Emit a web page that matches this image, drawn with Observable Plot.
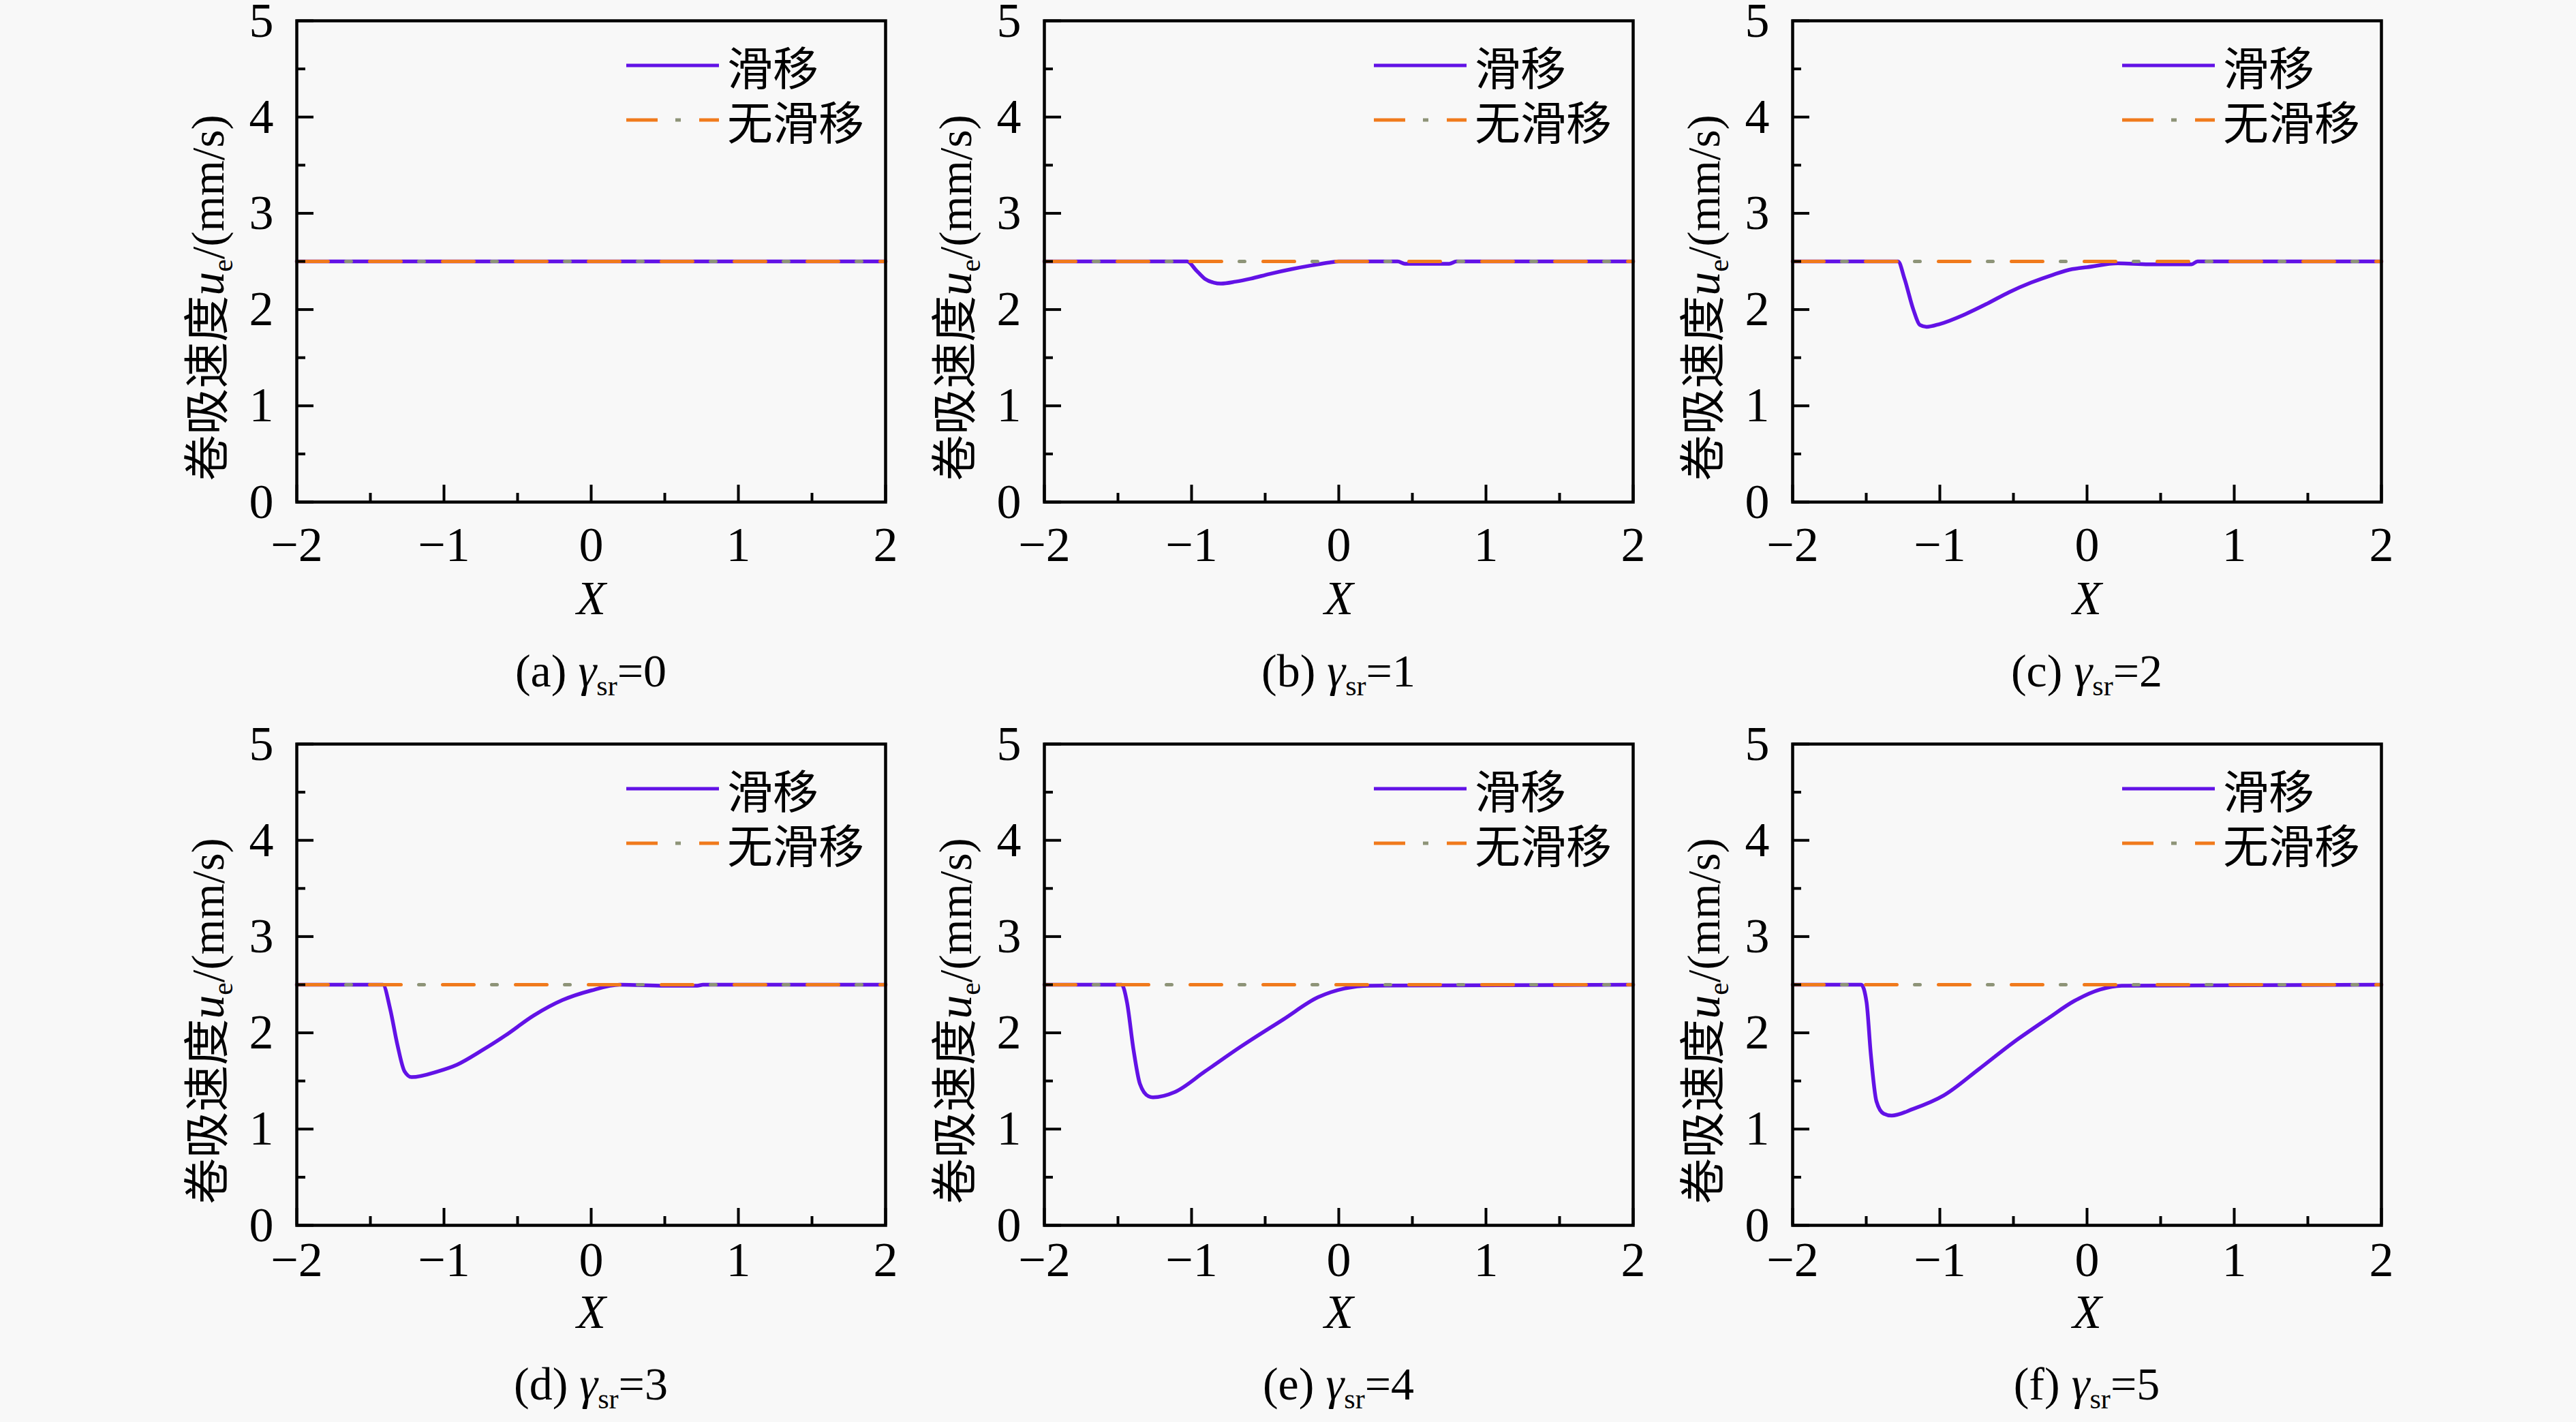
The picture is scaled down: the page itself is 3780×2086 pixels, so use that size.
<!DOCTYPE html>
<html>
<head>
<meta charset="utf-8">
<script src="https://cdn.jsdelivr.net/npm/d3@7"></script>
<script src="https://cdn.jsdelivr.net/npm/@observablehq/plot@0.6"></script>
<style>
  html, body { margin: 0; padding: 0; background: #f8f8f8; }
  #root { position: relative; width: 3780px; height: 2086px; background: #f8f8f8; overflow: hidden;
          font-family: "Liberation Serif", "Times New Roman", serif; color: #000; }
  .panel { position: absolute; }
  .panel svg { display: block; overflow: visible; }
  .panel svg text { font-family: "Liberation Serif", "Times New Roman", serif !important; }
  .ylabel { position: absolute; white-space: nowrap; font-size: 67px; line-height: 1;
            transform: translate(-50%, -50%) rotate(-90deg); }
  .cjk { font-family: "Noto Sans CJK SC", sans-serif; font-weight: 400; }
  .sub { font-size: 0.62em; position: relative; top: 0.32em; }
  .caption { position: absolute; white-space: nowrap; font-size: 68px; line-height: 1;
             transform: translate(-50%, -50%); }
  .legtext { position: absolute; white-space: nowrap; line-height: 80px; font-size: 67px; }
  .swatch { position: absolute; }
</style>
</head>
<body>
<div id="root"></div>
<script>
// ---------- data ----------
const xTicks = [-2, -1, 0, 1, 2];
const xMinorTicks = [-1.5, -0.5, 0.5, 1.5];
const yTicks = [0, 1, 2, 3, 4, 5];
const yMinorTicks = [0.5, 1.5, 2.5, 3.5, 4.5];

const panelLetters = ["a", "b", "c", "d", "e", "f"];
const gammaValues = [0, 1, 2, 3, 4, 5];
const seriesNames = ["滑移", "无滑移"];

// no-slip (constant)
const noSlipX = [-2, 2];
const noSlipY = [2.5, 2.5];

// slip, gamma_sr = 0
const slipX_a = [-2, 2];
const slipY_a = [2.5, 2.5];
// slip, gamma_sr = 1
const slipX_b = [-2, -1.03, -0.97, -0.91, -0.85, -0.80, -0.70, -0.60, -0.47, -0.32, -0.18, -0.06, 0.0, 0.40, 0.45, 0.75, 0.80, 2];
const slipY_b = [2.5, 2.5, 2.41, 2.32, 2.28, 2.27, 2.29, 2.32, 2.37, 2.42, 2.46, 2.49, 2.5, 2.5, 2.475, 2.475, 2.5, 2.5];
// slip, gamma_sr = 2
const slipX_c = [-2, -1.284, -1.24, -1.18, -1.136, -1.09, -1.0, -0.83, -0.68, -0.53, -0.38, -0.234, -0.1, 0.0, 0.21, 0.42, 0.71, 0.75, 2];
const slipY_c = [2.5, 2.5, 2.32, 2.0, 1.84, 1.82, 1.85, 1.95, 2.06, 2.18, 2.28, 2.36, 2.42, 2.44, 2.48, 2.47, 2.47, 2.5, 2.5];
// slip, gamma_sr = 3
const slipX_d = [-2, -1.415, -1.366, -1.317, -1.268, -1.22, -1.04, -0.91, -0.75, -0.585, -0.39, -0.195, 0.0, 0.195, 0.5, 0.72, 0.76, 2];
const slipY_d = [2.5, 2.5, 2.25, 1.88, 1.60, 1.54, 1.60, 1.67, 1.81, 1.97, 2.18, 2.34, 2.44, 2.50, 2.49, 2.49, 2.5, 2.5];
// slip, gamma_sr = 4
const slipX_e = [-2, -1.475, -1.439, -1.395, -1.351, -1.292, -1.262, -1.114, -0.908, -0.672, -0.376, -0.14, 0.037, 0.214, 2];
const slipY_e = [2.5, 2.5, 2.32, 1.83, 1.47, 1.34, 1.33, 1.385, 1.60, 1.85, 2.14, 2.37, 2.46, 2.49, 2.5];
// slip, gamma_sr = 5
const slipX_f = [-2, -1.534, -1.498, -1.469, -1.431, -1.381, -1.327, -1.18, -0.973, -0.737, -0.501, -0.265, -0.088, 0.088, 0.236, 2];
const slipY_f = [2.5, 2.5, 2.32, 1.78, 1.29, 1.16, 1.14, 1.21, 1.35, 1.62, 1.90, 2.15, 2.33, 2.45, 2.49, 2.5];

const slipXs = [slipX_a, slipX_b, slipX_c, slipX_d, slipX_e, slipX_f];
const slipYs = [slipY_a, slipY_b, slipY_c, slipY_d, slipY_e, slipY_f];

// ---------- style / layout ----------
const serif = "'Liberation Serif', 'Times New Roman', serif";
const slipColor = "#6212e6";
const noSlipColor = "#f07a1c";
const dotColor = "#8e9478";
const W = 864, H = 706;
const mL = 200, mR = 40, mT = 40, mB = 190;
const colLeft = [435, 1532, 2630];
const rowTop = [30, 1091];
const captionGap = [248, 233];
const tickPad = [35, 23];
const xLabelGap = [142, 128];
const fmt = d => (d < 0 ? "\u2212" + Math.abs(d) : String(d));

const root = document.getElementById("root");

panelLetters.forEach((letter, i) => {
  const r = Math.floor(i / 3), c = i % 3;
  const pl = colLeft[c], pt = rowTop[r];
  const slip = slipXs[i].map((x, k) => ({x, y: slipYs[i][k]}));
  const noSlip = noSlipX.map((x, k) => ({x, y: noSlipY[k]}));

  const chart = Plot.plot({
    width: mL + W + mR,
    height: mT + H + mB,
    marginLeft: mL, marginRight: mR, marginTop: mT, marginBottom: mB,
    x: {domain: [-2, 2]},
    y: {domain: [0, 5]},
    style: {background: "transparent", fontFamily: serif, fontSize: "72px", color: "#000", overflow: "visible"},
    marks: [
      Plot.line(slip, {x: "x", y: "y", stroke: slipColor, strokeWidth: 5.5, curve: "monotone-x"}),
      Plot.line(noSlip, {x: "x", y: "y", stroke: noSlipColor, strokeWidth: 5, strokeDasharray: "46,61"}),
      Plot.line(noSlip, {x: "x", y: "y", stroke: dotColor, strokeWidth: 5, strokeDasharray: "8,99", strokeDashoffset: -72}),
      Plot.tickY(yTicks, {y: d => d, insetRight: W - 25, stroke: "#000", strokeWidth: 4}),
      Plot.tickY(yMinorTicks, {y: d => d, insetRight: W - 13, stroke: "#000", strokeWidth: 4}),
      Plot.tickX(xTicks, {x: d => d, insetTop: H - 25, stroke: "#000", strokeWidth: 4}),
      Plot.tickX(xMinorTicks, {x: d => d, insetTop: H - 13, stroke: "#000", strokeWidth: 4}),
      Plot.frame({stroke: "#000", strokeWidth: 4.5}),
      Plot.axisY(yTicks, {tickSize: 0, tickPadding: 34, label: null, fontSize: 72, fontFamily: serif, tickFormat: fmt}),
      Plot.axisX(xTicks, {tickSize: 0, tickPadding: tickPad[r], label: null, fontSize: 72, fontFamily: serif, tickFormat: fmt}),
      Plot.text(["X"], {text: d => d, frameAnchor: "bottom", lineAnchor: "middle", dy: xLabelGap[r], fontSize: 70, fontFamily: serif, fontStyle: "italic"})
    ]
  });

  const panel = document.createElement("div");
  panel.className = "panel";
  panel.style.left = (pl - mL) + "px";
  panel.style.top = (pt - mT) + "px";
  panel.style.width = (mL + W + mR) + "px";
  panel.style.height = (mT + H + mB) + "px";
  panel.appendChild(chart);

  // legend (inside the frame, top right): swatches + one two-line text block
  const rowCY = [66, 146];
  const sw = d3.create("svg").attr("class", "swatch").attr("width", 136).attr("height", 100)
    .style("left", (mL + 484) + "px").style("top", (mT + rowCY[0] - 10) + "px");
  const y0 = 10, y1 = 10 + (rowCY[1] - rowCY[0]);
  sw.append("line").attr("x1", 0).attr("x2", 136).attr("y1", y0).attr("y2", y0)
    .attr("stroke", slipColor).attr("stroke-width", 5);
  sw.append("line").attr("x1", 0).attr("x2", 136).attr("y1", y1).attr("y2", y1)
    .attr("stroke", noSlipColor).attr("stroke-width", 5).attr("stroke-dasharray", "46,61");
  sw.append("line").attr("x1", 0).attr("x2", 136).attr("y1", y1).attr("y2", y1)
    .attr("stroke", dotColor).attr("stroke-width", 5).attr("stroke-dasharray", "8,99").attr("stroke-dashoffset", -72);
  panel.appendChild(sw.node());
  const t = document.createElement("div");
  t.className = "legtext cjk";
  t.style.left = (mL + 632) + "px";
  t.style.top = (mT + rowCY[0] - 40) + "px";
  t.innerHTML = seriesNames.join("<br>");
  panel.appendChild(t);
  root.appendChild(panel);

  // y-axis title
  const yl = document.createElement("div");
  yl.className = "ylabel";
  yl.style.left = (pl - 133) + "px";
  yl.style.top = (pt + H / 2 + 54) + "px";
  yl.innerHTML = '<span class="cjk" style="font-size:68px">卷吸速度</span><i style="font-size:70px">u</i><span class="sub">e</span>/(mm/s)';
  root.appendChild(yl);

  // caption
  const cap = document.createElement("div");
  cap.className = "caption";
  cap.style.left = (pl + W / 2) + "px";
  cap.style.top = (pt + H + captionGap[r]) + "px";
  cap.innerHTML = `(${letter}) <i>γ</i><span class="sub">sr</span>=${gammaValues[i]}`;
  root.appendChild(cap);
});
</script>
</body>
</html>
